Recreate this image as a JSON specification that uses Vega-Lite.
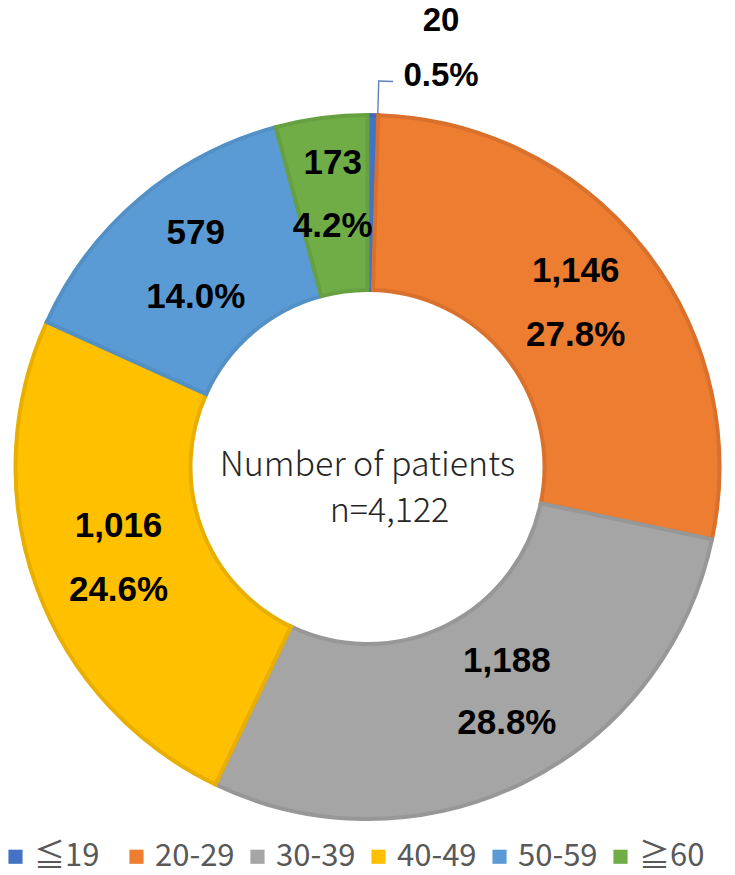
{
  "$schema": "https://vega.github.io/schema/vega-lite/v6.json",
  "width": 735,
  "height": 816,
  "padding": {"left": 0, "right": 0, "top": 59, "bottom": 0},
  "autosize": {"type": "none"},
  "background": "white",
  "config": {"view": {"stroke": null}},
  "layer": [
    {
      "data": {
        "values": [
          {"age": "≦19", "count": 20, "share": 0.005},
          {"age": "20-29", "count": 1146, "share": 0.278},
          {"age": "30-39", "count": 1188, "share": 0.288},
          {"age": "40-49", "count": 1016, "share": 0.246},
          {"age": "50-59", "count": 579, "share": 0.140},
          {"age": "≧60", "count": 173, "share": 0.042}
        ]
      },
      "transform": [{"window": [{"op": "row_number", "as": "rank"}]}],
      "encoding": {
        "theta": {"field": "count", "type": "quantitative", "stack": true},
        "order": {"field": "rank", "type": "quantitative"}
      },
      "resolve": {"scale": {"theta": "independent"}},
      "layer": [
        {
          "mark": {"type": "arc", "radius": 352, "innerRadius": 177, "strokeWidth": 4},
          "encoding": {
            "color": {
              "field": "age",
              "type": "nominal",
              "scale": {
                "domain": ["≦19", "20-29", "30-39", "40-49", "50-59", "≧60"],
                "range": ["#4472C4", "#ED7D31", "#A5A5A5", "#FFC000", "#5B9BD5", "#70AD47"]
              },
              "legend": {
                "title": null,
                "orient": "none",
                "legendX": 0,
                "legendY": 782,
                "direction": "horizontal",
                "columns": 6,
                "gridAlign": "all",
                "symbolType": "square",
                "symbolSize": 200,
                "symbolStrokeWidth": 0,
                "labelFont": "Noto Sans CJK JP",
                "labelFontSize": 31,
                "labelColor": "#595959",
                "labelOffset": 3,
                "columnPadding": 7,
                "labelLimit": 200
              }
            },
            "stroke": {
              "field": "age",
              "type": "nominal",
              "scale": {
                "domain": ["≦19", "20-29", "30-39", "40-49", "50-59", "≧60"],
                "range": ["#3F68B5", "#D9712C", "#979797", "#E8AF00", "#5390C6", "#66A041"]
              },
              "legend": null
            }
          }
        },
        {
          "transform": [{"filter": "datum.age === '≦19'"}],
          "mark": {"type": "arc", "radius": 386, "innerRadius": 354, "fill": "#5F7FBF"},
          "encoding": {
            "theta": {"field": "count", "type": "quantitative", "stack": true, "scale": {"range": [0.0272, 0.031]}}
          }
        },
        {
          "transform": [{"filter": "datum.age === '≦19'"}],
          "mark": {"type": "arc", "radius": 387, "innerRadius": 385.5, "fill": "#5F7FBF"},
          "encoding": {
            "theta": {"field": "count", "type": "quantitative", "stack": true, "scale": {"range": [0.0272, 0.066]}}
          }
        },
        {
          "mark": {"type": "text", "radius": 265, "font": "Liberation Sans", "fontWeight": "bold", "fontSize": 35, "fill": "#000000", "baseline": "middle", "align": "center", "dy": -32},
          "encoding": {
            "detail": {"field": "age", "type": "nominal"},
            "text": {"field": "count", "type": "quantitative", "format": ","},
            "opacity": {"condition": {"test": "datum.age === '≦19' || datum.age === '≧60' || datum.age === '30-39'", "value": 0}, "value": 1}
          }
        },
        {
          "mark": {"type": "text", "radius": 265, "font": "Liberation Sans", "fontWeight": "bold", "fontSize": 35, "fill": "#000000", "baseline": "middle", "align": "center", "dy": 32},
          "encoding": {
            "detail": {"field": "age", "type": "nominal"},
            "text": {"field": "share", "type": "quantitative", "format": ".1%"},
            "opacity": {"condition": {"test": "datum.age === '≦19' || datum.age === '≧60' || datum.age === '30-39'", "value": 0}, "value": 1}
          }
        },
        {
          "mark": {"type": "text", "radius": 265, "font": "Liberation Sans", "fontWeight": "bold", "fontSize": 35, "fill": "#000000", "baseline": "middle", "align": "center", "dx": 0, "dy": -41},
          "encoding": {
            "detail": {"field": "age", "type": "nominal"},
            "text": {"field": "count", "type": "quantitative", "format": ","},
            "opacity": {"condition": {"test": "datum.age === '≧60'", "value": 1}, "value": 0}
          }
        },
        {
          "mark": {"type": "text", "radius": 265, "font": "Liberation Sans", "fontWeight": "bold", "fontSize": 35, "fill": "#000000", "baseline": "middle", "align": "center", "dx": 0, "dy": 22},
          "encoding": {
            "detail": {"field": "age", "type": "nominal"},
            "text": {"field": "share", "type": "quantitative", "format": ".1%"},
            "opacity": {"condition": {"test": "datum.age === '≧60'", "value": 1}, "value": 0}
          }
        },
        {
          "mark": {"type": "text", "radius": 265, "font": "Liberation Sans", "fontWeight": "bold", "fontSize": 35, "fill": "#000000", "baseline": "middle", "align": "center", "dx": 22, "dy": -44},
          "encoding": {
            "detail": {"field": "age", "type": "nominal"},
            "text": {"field": "count", "type": "quantitative", "format": ","},
            "opacity": {"condition": {"test": "datum.age === '30-39'", "value": 1}, "value": 0}
          }
        },
        {
          "mark": {"type": "text", "radius": 265, "font": "Liberation Sans", "fontWeight": "bold", "fontSize": 35, "fill": "#000000", "baseline": "middle", "align": "center", "dx": 22, "dy": 18},
          "encoding": {
            "detail": {"field": "age", "type": "nominal"},
            "text": {"field": "share", "type": "quantitative", "format": ".1%"},
            "opacity": {"condition": {"test": "datum.age === '30-39'", "value": 1}, "value": 0}
          }
        },
        {
          "transform": [{"filter": "datum.age === '≦19'"}],
          "mark": {"type": "text", "radius": 428, "font": "Liberation Sans", "fontWeight": "bold", "fontSize": 33, "fill": "#000000", "baseline": "middle", "align": "center", "dx": 67, "dy": -18},
          "encoding": {
            "theta": {"field": "count", "type": "quantitative", "stack": true, "scale": {"range": [0, 0.0305]}},
            "detail": {"field": "age", "type": "nominal"},
            "text": {"field": "count", "type": "quantitative", "format": ","}
          }
        },
        {
          "transform": [{"filter": "datum.age === '≦19'"}],
          "mark": {"type": "text", "radius": 428, "font": "Liberation Sans", "fontWeight": "bold", "fontSize": 33, "fill": "#000000", "baseline": "middle", "align": "center", "dx": 67, "dy": 37},
          "encoding": {
            "theta": {"field": "count", "type": "quantitative", "stack": true, "scale": {"range": [0, 0.0305]}},
            "detail": {"field": "age", "type": "nominal"},
            "text": {"field": "share", "type": "quantitative", "format": ".1%"}
          }
        }
      ]
    },
    {
      "data": {"values": [{"line": "Number of patients"}]},
      "mark": {"type": "text", "font": "Noto Sans CJK JP", "fontWeight": 300, "fontSize": 34, "fill": "#262626", "baseline": "alphabetic", "align": "center", "dy": 9},
      "encoding": {"text": {"field": "line", "type": "nominal"}}
    },
    {
      "data": {"values": [{"line": "n=4,122"}]},
      "mark": {"type": "text", "font": "Noto Sans CJK JP", "fontWeight": 300, "fontSize": 34, "fill": "#262626", "baseline": "alphabetic", "align": "center", "dx": 22, "dy": 55},
      "encoding": {"text": {"field": "line", "type": "nominal"}}
    }
  ]
}
